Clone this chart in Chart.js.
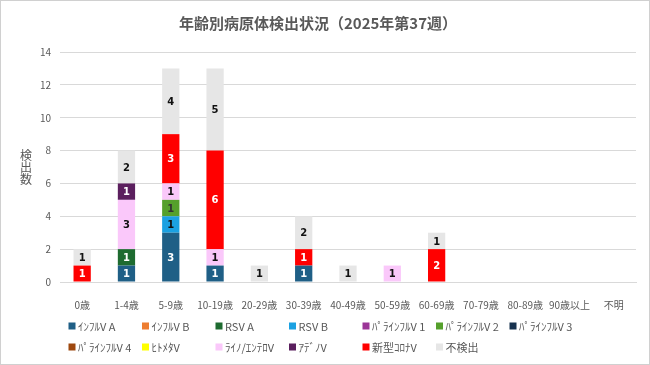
<!DOCTYPE html>
<html lang="ja">
<head>
    <meta charset="UTF-8">
    <title>年齢別病原体検出状況</title>
    <script src="https://cdn.jsdelivr.net/npm/chart.js"></script>
    <style>
        html, body { margin: 0; padding: 0; background: #fff; }
        #wrap { width: 650px; height: 365px; }
    </style>
</head>
<body>
    <div id="wrap"><canvas id="myChart" width="650" height="365"></canvas></div>

    <script>
    // 年齢区分
    const categories = ['0歳', '1-4歳', '5-9歳', '10-19歳', '20-29歳', '30-39歳', '40-49歳',
        '50-59歳', '60-69歳', '70-79歳', '80-89歳', '90歳以上', '不明'];

    // 病原体ごとの検出数（下から積み上げ順）
    const fluA     = [0, 1, 3, 1, 0, 1, 0, 0, 0, 0, 0, 0, 0];
    const fluB     = [0, 0, 0, 0, 0, 0, 0, 0, 0, 0, 0, 0, 0];
    const rsvA     = [0, 1, 0, 0, 0, 0, 0, 0, 0, 0, 0, 0, 0];
    const rsvB     = [0, 0, 1, 0, 0, 0, 0, 0, 0, 0, 0, 0, 0];
    const para1    = [0, 0, 0, 0, 0, 0, 0, 0, 0, 0, 0, 0, 0];
    const para2    = [0, 0, 1, 0, 0, 0, 0, 0, 0, 0, 0, 0, 0];
    const para3    = [0, 0, 0, 0, 0, 0, 0, 0, 0, 0, 0, 0, 0];
    const para4    = [0, 0, 0, 0, 0, 0, 0, 0, 0, 0, 0, 0, 0];
    const hmpv     = [0, 0, 0, 0, 0, 0, 0, 0, 0, 0, 0, 0, 0];
    const rhino    = [0, 3, 1, 1, 0, 0, 0, 1, 0, 0, 0, 0, 0];
    const adeno    = [0, 1, 0, 0, 0, 0, 0, 0, 0, 0, 0, 0, 0];
    const covid    = [1, 0, 3, 6, 0, 1, 0, 0, 2, 0, 0, 0, 0];
    const negative = [1, 2, 4, 5, 1, 2, 1, 0, 1, 0, 0, 0, 0];

    const yTicks = [0, 2, 4, 6, 8, 10, 12, 14];

    const seriesNames = ['ｲﾝﾌﾙV A', 'ｲﾝﾌﾙV B', 'RSV A', 'RSV B', 'ﾊﾟﾗｲﾝﾌﾙV 1', 'ﾊﾟﾗｲﾝﾌﾙV 2',
        'ﾊﾟﾗｲﾝﾌﾙV 3', 'ﾊﾟﾗｲﾝﾌﾙV 4', 'ﾋﾄﾒﾀV', 'ﾗｲﾉ/ｴﾝﾃﾛV', 'ｱﾃﾞﾉV', '新型ｺﾛﾅV', '不検出'];
    const seriesValues = [fluA, fluB, rsvA, rsvB, para1, para2, para3, para4, hmpv, rhino, adeno, covid, negative];

    const colors = ['#1f5f86', '#ed7d31', '#1e6b30', '#1ba1e2', '#9b3597', '#55a02c',
        '#17324f', '#9e480e', '#ffff00', '#fac8fa', '#5b1f5e', '#ff0000', '#e6e6e6'];
    const labelColors = ['#fff', '#fff', '#fff', '#111', '#fff', '#333',
        '#fff', '#fff', '#111', '#111', '#fff', '#fff', '#111'];

    const FONT = '"Noto Sans CJK JP", "Noto Sans", sans-serif';
    const GRAY = '#595959';

    // 背景と外枠
    const frame = {
        id: 'frame',
        beforeDraw(chart) {
            const c = chart.ctx;
            c.save();
            c.fillStyle = '#fff';
            c.fillRect(0, 0, chart.width, chart.height);
            c.strokeStyle = '#d0d0d0';
            c.lineWidth = 1;
            c.strokeRect(0.5, 0.5, chart.width - 1, chart.height - 1);
            c.restore();
        }
    };

    // 棒の中の数値
    const valueLabels = {
        id: 'valueLabels',
        afterDatasetsDraw(chart) {
            const c = chart.ctx;
            c.save();
            c.font = 'bold 10px "DejaVu Sans", sans-serif';
            c.textAlign = 'center';
            c.textBaseline = 'middle';
            chart.data.datasets.forEach((ds, i) => {
                chart.getDatasetMeta(i).data.forEach((bar, j) => {
                    const v = ds.data[j];
                    if (!v) return;
                    c.fillStyle = labelColors[i];
                    c.fillText(String(v), bar.x, (bar.y + bar.base) / 2 + 1);
                });
            });
            c.restore();
        }
    };

    // 縦書きの軸タイトルと凡例
    const extras = {
        id: 'extras',
        afterDraw(chart) {
            const c = chart.ctx;
            c.save();
            c.fillStyle = GRAY;
            c.font = '12px ' + FONT;
            c.textAlign = 'center';
            c.textBaseline = 'middle';
            ['検', '出', '数'].forEach((ch, k) => c.fillText(ch, 26, 155 + k * 12));

            c.font = '11px ' + FONT;
            c.textAlign = 'left';
            seriesNames.forEach((name, i) => {
                const col = i % 7, row = Math.floor(i / 7);
                const x = 72 + col * 73.5, y = 326 + row * 21;
                c.fillStyle = colors[i];
                c.fillRect(x - 3.5, y - 3.5, 7, 7);
                c.fillStyle = GRAY;
                c.fillText(name, x + 6, y + 1);
            });
            c.restore();
        }
    };

    new Chart(document.getElementById('myChart'), {
        type: 'bar',
        data: {
            labels: categories,
            datasets: seriesNames.map((name, i) => ({
                label: name,
                data: seriesValues[i],
                backgroundColor: colors[i],
                borderWidth: 0,
                barPercentage: 0.39,
                categoryPercentage: 1
            }))
        },
        options: {
            responsive: false,
            animation: false,
            layout: { padding: { left: 0, right: 14, top: 0, bottom: 53 } },
            scales: {
                x: {
                    stacked: true,
                    grid: { display: false },
                    border: { color: '#d9d9d9' },
                    ticks: { color: GRAY, font: { family: FONT, size: 10 }, padding: 9, maxRotation: 0, autoSkip: false },
                    afterFit(scale) { scale.height = 30; }
                },
                y: {
                    stacked: true,
                    min: 0,
                    max: 14,
                    afterBuildTicks(scale) { scale.ticks = yTicks.map(v => ({ value: v })); },
                    grid: { color: '#d9d9d9', drawTicks: false },
                    border: { display: false },
                    ticks: { color: GRAY, font: { family: FONT, size: 10 }, padding: 9 },
                    afterFit(scale) { scale.width = 60; }
                }
            },
            plugins: {
                legend: { display: false },
                tooltip: { enabled: false },
                title: {
                    display: true,
                    text: '年齢別病原体検出状況（2025年第37週）',
                    color: GRAY,
                    font: { family: FONT, size: 15, weight: 'bold', lineHeight: 1.2 },
                    padding: { top: 14, bottom: 20 }
                }
            }
        },
        plugins: [frame, valueLabels, extras]
    });
    </script>
</body>
</html>
